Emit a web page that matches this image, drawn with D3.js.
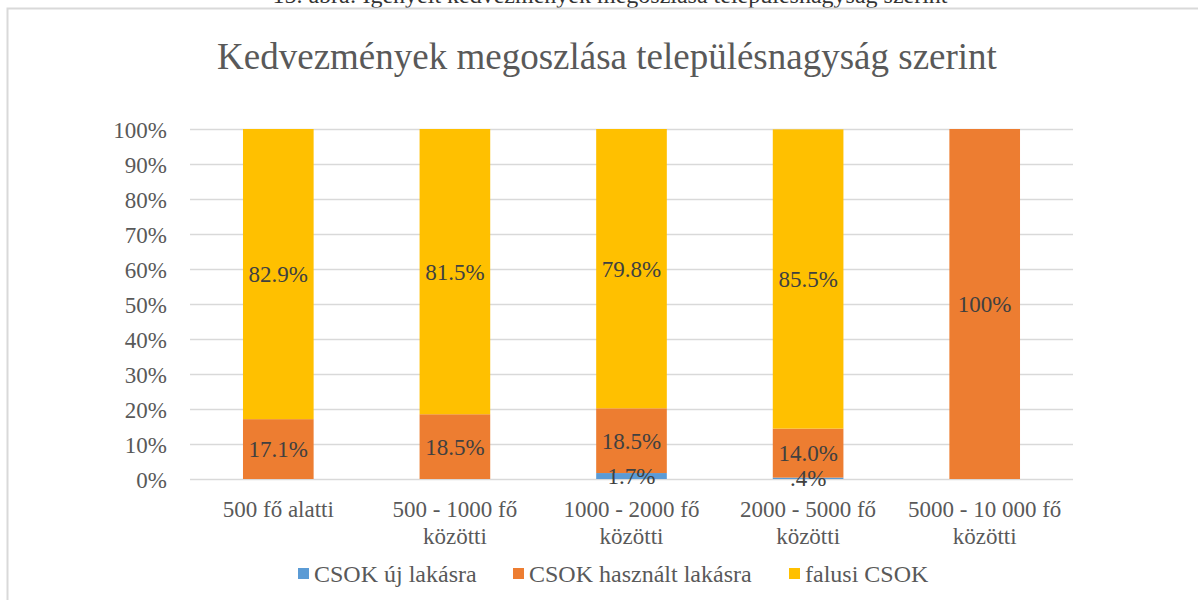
<!DOCTYPE html>
<html>
<head>
<meta charset="utf-8">
<script src="https://cdn.jsdelivr.net/npm/d3@7"></script>
<style>
  body { margin: 0; background: #fff; }
  svg { font-family: "Liberation Serif", "Times New Roman", serif; }
</style>
</head>
<body>
<svg id="chart" width="1198" height="600"></svg>
<script>
// Data
const categories = [
  ["500 fő alatti"],
  ["500 - 1000 fő", "közötti"],
  ["1000 - 2000 fő", "közötti"],
  ["2000 - 5000 fő", "közötti"],
  ["5000 - 10 000 fő", "közötti"]
];
const seriesNames = ["CSOK új lakásra", "CSOK használt lakásra", "falusi CSOK"];
const ujLakas = [0, 0, 1.7, 0.4, 0];
const hasznaltLakas = [17.1, 18.5, 18.5, 14.0, 100];
const falusi = [82.9, 81.5, 79.8, 85.5, 0];
const yTicks = [0, 10, 20, 30, 40, 50, 60, 70, 80, 90, 100];
const colors = ["#5B9BD5", "#ED7D31", "#FFC000"];

const svg = d3.select("#chart");
const margin = { top: 129, right: 125, bottom: 121, left: 190 };
const W = 1198, H = 600;
const innerWidth = W - margin.left - margin.right;
const innerHeight = H - margin.top - margin.bottom;

// cut-off caption above the chart frame
svg.append("text")
  .attr("x", 610).attr("y", 3)
  .attr("text-anchor", "middle")
  .style("font-size", "24px")
  .style("fill", "#333")
  .text("15. ábra: Igényelt kedvezmények megoszlása településnagyság szerint");

svg.append("rect")
  .attr("x", 7.5).attr("y", 8.5)
  .attr("width", W + 10).attr("height", H + 10)
  .attr("fill", "none")
  .attr("stroke", "#d9d9d9")
  .attr("stroke-width", 2);

svg.append("text")
  .attr("x", 607).attr("y", 69)
  .attr("text-anchor", "middle")
  .style("font-size", "37px")
  .style("fill", "#595959")
  .text("Kedvezmények megoszlása településnagyság szerint");

const g = svg.append("g")
  .attr("transform", `translate(${margin.left},${margin.top})`);

const x = d3.scaleBand()
  .domain(d3.range(categories.length))
  .range([0, innerWidth])
  .paddingInner(0.6)
  .paddingOuter(0.3);

const y = d3.scaleLinear().domain([0, 100]).range([innerHeight, 0]);

// gridlines
g.append("g")
  .selectAll("line")
  .data(yTicks)
  .join("line")
    .attr("x1", 0).attr("x2", innerWidth)
    .attr("y1", d => Math.round(y(d)) + 0.5)
    .attr("y2", d => Math.round(y(d)) + 0.5)
    .attr("stroke", "#d9d9d9")
    .attr("stroke-width", 1.5);

// y axis labels
const yAxis = g.append("g")
  .call(d3.axisLeft(y).tickValues(yTicks).tickFormat(d => d + "%").tickSize(0).tickPadding(23));
yAxis.select(".domain").remove();
yAxis.selectAll("text")
  .attr("dy", "0.35em")
  .style("font-family", "Liberation Serif, serif")
  .style("font-size", "23px")
  .style("fill", "#595959");

// stacked data
const rows = categories.map((c, i) => ({ i, a: ujLakas[i], b: hasznaltLakas[i], c: falusi[i] }));
const series = d3.stack().keys(["a", "b", "c"])(rows);

g.selectAll("g.series")
  .data(series)
  .join("g")
    .attr("class", "series")
    .attr("fill", (d, k) => colors[k])
  .selectAll("rect")
  .data(d => d)
  .join("rect")
    .attr("x", d => x(d.data.i))
    .attr("width", x.bandwidth())
    .attr("y", d => y(d[1]))
    .attr("height", d => y(d[0]) - y(d[1]));

// data labels
const fmt = v => {
  if (v === 100) return "100%";
  const s = v.toFixed(1);
  return (s.startsWith("0") ? s.slice(1) : s) + "%";
};
series.forEach(s => {
  g.append("g")
    .selectAll("text")
    .data(s.filter(d => d[1] - d[0] > 0))
    .join("text")
      .attr("x", d => x(d.data.i) + x.bandwidth() / 2)
      .attr("y", d => y((d[0] + d[1]) / 2))
      .attr("dy", "0.35em")
      .attr("text-anchor", "middle")
      .style("font-size", "23px")
      .style("fill", "#404040")
      .text(d => fmt(d[1] - d[0]));
});

// category labels
const xl = g.append("g")
  .selectAll("text")
  .data(categories)
  .join("text")
    .attr("x", (d, i) => x(i) + x.bandwidth() / 2)
    .attr("y", innerHeight + 38)
    .attr("text-anchor", "middle")
    .style("font-size", "23px")
    .style("fill", "#595959");
xl.selectAll("tspan")
  .data(d => d)
  .join("tspan")
    .attr("x", function () { return d3.select(this.parentNode).attr("x"); })
    .attr("dy", (d, j) => j === 0 ? 0 : 27)
    .text(d => d);

// legend
const legendX = [298, 513, 789];
const legend = svg.append("g");
seriesNames.forEach((name, k) => {
  legend.append("rect")
    .attr("x", legendX[k]).attr("y", 568)
    .attr("width", 11).attr("height", 11)
    .attr("fill", colors[k]);
  legend.append("text")
    .attr("x", legendX[k] + 16).attr("y", 582)
    .style("font-size", "24px")
    .style("fill", "#595959")
    .text(name);
});
</script>
</body>
</html>
